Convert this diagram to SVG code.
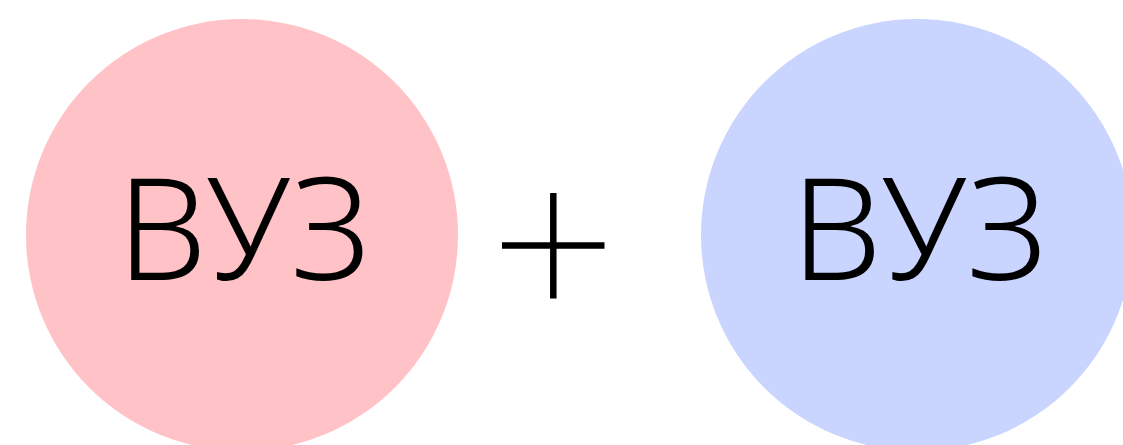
<svg xmlns="http://www.w3.org/2000/svg" width="1123" height="445" viewBox="0 0 1123 445">
<style>
.lbl{font-family:"Noto Sans","DejaVu Sans",sans-serif;font-weight:300;font-size:141px;fill:#000;text-anchor:middle}
.plus{stroke:#000;stroke-width:6.5;fill:none}
</style>
<rect width="1123" height="445" fill="#fff"/>
<g id="node-left">
<circle cx="242" cy="235" r="216" fill="#FFC2C7"/>
<text class="lbl" x="244" y="280" textLength="254" lengthAdjust="spacingAndGlyphs">ВУЗ</text>
</g>
<g id="node-plus">
<line class="plus" x1="502" y1="245.5" x2="604.5" y2="245.5"/>
<line class="plus" x1="553.3" y1="193" x2="553.3" y2="298.5"/>
</g>
<g id="node-right">
<circle cx="917" cy="235" r="216" fill="#C9D4FF"/>
<text class="lbl" x="919.5" y="280" textLength="257" lengthAdjust="spacingAndGlyphs">ВУЗ</text>
</g>
<g id="connectors"></g>
</svg>
